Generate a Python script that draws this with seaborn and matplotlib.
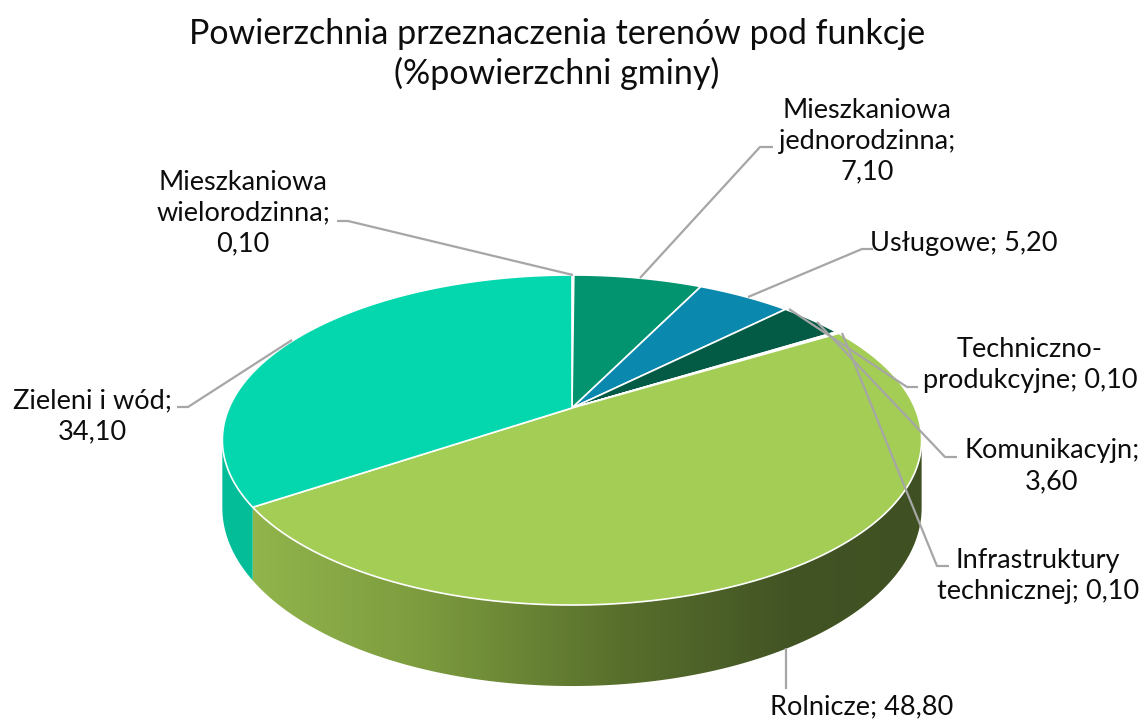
import numpy as np
import matplotlib
matplotlib.use("Agg")
import matplotlib.pyplot as plt
from matplotlib.patches import Polygon
from matplotlib.colors import LinearSegmentedColormap
import seaborn as sns

# data (% of the commune area), clockwise from 12 o'clock
categories = [
    "Mieszkaniowa wielorodzinna",
    "Mieszkaniowa jednorodzinna",
    "Usługowe",
    "Komunikacyjn",
    "Techniczno-produkcyjne",
    "Infrastruktury technicznej",
    "Rolnicze",
    "Zieleni i wód",
]
values = [0.10, 7.10, 5.20, 3.60, 0.10, 0.10, 48.80, 34.10]
label_templates = [
    "Mieszkaniowa\nwielorodzinna;\n{v}",
    "Mieszkaniowa\njednorodzinna;\n{v}",
    "Usługowe; {v}",
    "Komunikacyjn;\n{v}",
    "Techniczno-\nprodukcyjne; {v}",
    "Infrastruktury\ntechnicznej; {v}",
    "Rolnicze; {v}",
    "Zieleni i wód;\n{v}",
]
title = "Powierzchnia przeznaczenia terenów pod funkcje\n(%powierzchni gminy)"

top_colors = ["#9dbf6a", "#02946e", "#0a88ae", "#035a45", "#6f9a3f", "#2f6f5a", "#a3cd55", "#04d7ae"]
side_colors = ["#86a85a", "#027a5c", "#08708f", "#024a39", "#5c8034", "#255a49", None, "#03bd99"]

# label centres and leader lines (pixel layout)
label_pos = [(243, 213), (867, 141), (964, 244), (1052, 466), (1030, 365),
             (1038, 576), (862, 707), (92, 416)]
leaders = [
    [(573, 275), (348, 221), (337, 221)],
    [(640, 278), (760, 147), (773, 147)],
    [(748, 297), (862, 249), (873, 249)],
    [(817, 322), (945, 457), (957, 457)],
    [(789, 309), (907, 387), (918, 387)],
    [(842, 333), (937, 566), (949, 566)],
    [(786, 648), (786, 689)],
    [(292, 340), (188, 407), (177, 407)],
]

sns.set_theme(style="white")
plt.rcParams["font.family"] = ["Lato", "DejaVu Sans"]

# perspective ellipse of the pie top
cx, cy = 572, 408
A, B, E, H = 343, 158.8, 0.194, 65.3


def proj(theta, drop=0.0):
    u, v = np.sin(theta), np.cos(theta)
    d = 1 + E * v
    return cx + A * u / d, cy - B * v / d + drop * H / d


fig = plt.figure(figsize=(11.43, 7.21), dpi=100)
ax = fig.add_axes([0, 0, 1, 1])

total = sum(values)
bounds = np.concatenate([[0], np.cumsum(values)]) / total * 2 * np.pi
sil = np.arccos(-E)
vis_lo, vis_hi = sil, 2 * np.pi - sil

# side walls
wall_cmap = LinearSegmentedColormap.from_list(
    "wall", [(0, "#92b54c"), (0.25, "#7d9c3f"), (0.55, "#586f2c"), (0.8, "#425424"), (1, "#3f5122")])
for i in range(len(values)):
    t0, t1 = max(bounds[i], vis_lo), min(bounds[i + 1], vis_hi)
    if t1 <= t0:
        continue
    ts = np.linspace(t0, t1, 120)
    topx, topy = proj(ts)
    botx, boty = proj(ts[::-1], 1.0)
    pts = np.column_stack([np.r_[topx, botx], np.r_[topy, boty]])
    if side_colors[i] is None:
        poly = Polygon(pts, closed=True, facecolor="none", edgecolor="none", zorder=1)
        ax.add_patch(poly)
        grad = np.linspace(0, 1, 256).reshape(1, -1)
        im = ax.imshow(grad, extent=(250, 925, 700, 420), cmap=wall_cmap,
                       aspect="auto", zorder=1, interpolation="bilinear")
        im.set_clip_path(poly)
    else:
        ax.add_patch(Polygon(pts, closed=True, facecolor=side_colors[i],
                             edgecolor="none", zorder=1))

# top faces
for i in range(len(values)):
    ts = np.linspace(bounds[i], bounds[i + 1], max(int(300 * values[i] / total), 4))
    xs, ys = proj(ts)
    pts = np.column_stack([np.r_[cx, xs], np.r_[cy, ys]])
    ax.add_patch(Polygon(pts, closed=True, facecolor=top_colors[i],
                         edgecolor="white", linewidth=1.2, joinstyle="round", zorder=2))

# leader lines and labels
for line in leaders:
    xs, ys = zip(*line)
    ax.plot(xs, ys, color="#a6a6a6", linewidth=1.6, zorder=3, solid_capstyle="butt")

for i, tmpl in enumerate(label_templates):
    txt = tmpl.format(v=f"{values[i]:.2f}".replace(".", ","))
    ax.text(*label_pos[i], txt, ha="center", va="center", fontsize=19.5,
            linespacing=1.3, color="#0d0d0d", zorder=4)

ax.text(557, 54, title, ha="center", va="center", fontsize=24.5,
        linespacing=1.25, color="#0d0d0d")

ax.set_xlim(0, 1143)
ax.set_ylim(721, 0)
ax.set_aspect("auto")
ax.axis("off")

fig.savefig("out.png", dpi=100, facecolor="white")
